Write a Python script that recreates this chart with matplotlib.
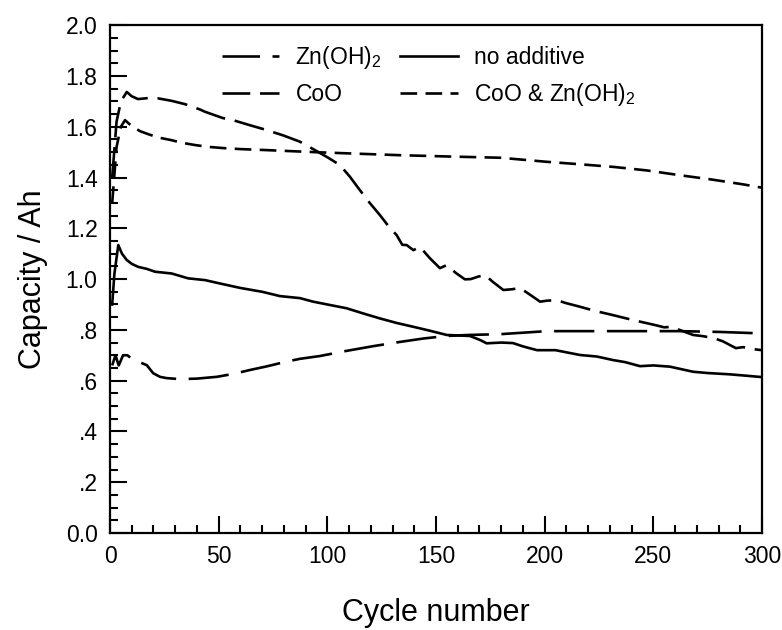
import matplotlib
matplotlib.use("Agg")
import matplotlib.pyplot as plt
from matplotlib.lines import Line2D

# Capacity vs cycle number for the four electrode additives
zn_x = [1, 3, 5, 7.7, 10, 12.9, 17.6, 22, 28.4, 34.5, 41.4, 43.7, 52, 56.6, 64, 72.1, 80, 87.4,
        94.3, 100, 105.8, 110.4, 115, 119.6, 124.2, 128, 131.9, 134.5, 136.5, 139.6, 142.6, 147.2,
        151.8, 154.9, 159, 163.3, 166, 169.5, 172.6, 176, 181, 185, 188.7, 193, 197.9, 201, 205.5,
        210, 216.3, 223, 231.5, 240, 250.8, 255, 258.5, 262, 268.3, 273, 277.5, 282, 285.3, 288,
        291.3, 295, 300]
zn_y = [1.40, 1.62, 1.70, 1.737, 1.72, 1.709, 1.713, 1.712, 1.702, 1.689, 1.668, 1.659, 1.634,
        1.626, 1.607, 1.587, 1.565, 1.541, 1.508, 1.48, 1.449, 1.403, 1.35, 1.299, 1.252, 1.21,
        1.173, 1.135, 1.134, 1.114, 1.127, 1.082, 1.043, 1.055, 1.025, 0.999, 1.0, 1.01, 1.016,
        0.99, 0.957, 0.96, 0.965, 0.94, 0.911, 0.915, 0.917, 0.905, 0.891, 0.875, 0.858, 0.84,
        0.819, 0.81, 0.812, 0.80, 0.780, 0.775, 0.768, 0.755, 0.740, 0.728, 0.732, 0.725, 0.72]

coz_x = [1, 3, 5, 6.9, 9, 11.5, 14, 17.5, 22, 28.4, 33, 39.1, 45, 52, 60, 72.1, 83, 94.3, 110,
         133.4, 155, 179.5, 200.9, 215, 231.5, 247, 262.3, 277, 291.4, 300]
coz_y = [1.30, 1.52, 1.60, 1.626, 1.61, 1.594, 1.582, 1.571, 1.558, 1.547, 1.537, 1.528, 1.521,
         1.516, 1.512, 1.508, 1.504, 1.500, 1.495, 1.488, 1.483, 1.478, 1.462, 1.453, 1.442,
         1.428, 1.409, 1.392, 1.373, 1.36]

none_x = [1, 2, 3.8, 5.5, 7.7, 10, 13, 17, 20.7, 28.4, 35.9, 43.7, 52, 60, 70, 78.2, 87.4, 93.5,
          100, 108.9, 116, 124.2, 132, 139.6, 147, 154.9, 160, 165.6, 170.3, 173.3, 180, 185.4,
          190, 196.5, 205, 216.3, 224, 231.5, 237, 243.9, 250, 257.7, 263, 268.3, 275, 285, 292, 300]
none_y = [0.90, 1.02, 1.134, 1.10, 1.075, 1.06, 1.048, 1.04, 1.029, 1.022, 1.003, 0.996, 0.980,
          0.965, 0.950, 0.933, 0.925, 0.911, 0.900, 0.885, 0.866, 0.845, 0.827, 0.812, 0.797,
          0.780, 0.778, 0.776, 0.760, 0.747, 0.75, 0.748, 0.735, 0.720, 0.72, 0.701, 0.695, 0.681,
          0.673, 0.657, 0.660, 0.655, 0.645, 0.635, 0.630, 0.625, 0.620, 0.614]

coo_x = [1, 2.5, 4, 6, 8, 10.7, 13, 16.9, 19.9, 23, 26, 32.2, 40, 49.1, 57, 64.4, 72, 79.7, 87.4,
         96.6, 108, 121.2, 133, 144.2, 154.9, 165, 179.5, 201, 231.5, 262, 280, 300]
coo_y = [0.66, 0.70, 0.66, 0.70, 0.70, 0.681, 0.675, 0.661, 0.629, 0.615, 0.610, 0.606, 0.608,
         0.615, 0.627, 0.642, 0.656, 0.672, 0.686, 0.697, 0.716, 0.736, 0.752, 0.766, 0.776,
         0.780, 0.783, 0.795, 0.795, 0.795, 0.792, 0.786]

y_ticks = [0.0, 0.2, 0.4, 0.6, 0.8, 1.0, 1.2, 1.4, 1.6, 1.8, 2.0]
y_tick_labels = ["0.0", ".2", ".4", ".6", ".8", "1.0", "1.2", "1.4", "1.6", "1.8", "2.0"]
x_ticks = [0, 50, 100, 150, 200, 250, 300]

plt.rcParams['font.family'] = ['Liberation Sans', 'DejaVu Sans']
plt.rcParams['mathtext.fontset'] = 'custom'
plt.rcParams['mathtext.rm'] = 'Liberation Sans'
plt.rcParams['lines.scale_dashes'] = False

fig = plt.figure(figsize=(7.82, 6.3), dpi=100)
ax = fig.add_axes([0.1407, 0.154, 0.8337, 0.806])

lw = 1.9
ax.plot(zn_x, zn_y, color='black', lw=lw, dashes=(22, 7))
ax.plot(coz_x, coz_y, color='black', lw=lw, dashes=(12, 6))
ax.plot(none_x, none_y, color='black', lw=lw)
ax.plot(coo_x, coo_y, color='black', lw=lw, dashes=(29, 9))

ax.set_xlim(0, 300)
ax.set_ylim(0, 2.0)
ax.set_xticks(x_ticks)
ax.set_xticks(range(0, 301, 10), minor=True)
ax.set_yticks(y_ticks)
ax.set_yticklabels(y_tick_labels)
ax.set_yticks([i * 0.05 for i in range(41)], minor=True)
ax.tick_params(which='both', direction='in', top=False, right=False, width=1.5,
               labelsize=16.5, pad=9)
ax.tick_params(which='major', length=12)
ax.tick_params(which='minor', length=6)
for s in ax.spines.values():
    s.set_linewidth(1.6)

ax.set_xlabel('Cycle number', fontsize=22, labelpad=21)
ax.set_ylabel('Capacity / Ah', fontsize=22, labelpad=13)

# legend with handles drawn in the original's symbols
handles = [
    Line2D([], [], color='black', lw=lw, dashes=(27, 9, 5, 9)),
    Line2D([], [], color='black', lw=lw, dashes=(20, 7)),
    Line2D([], [], color='black', lw=lw),
    Line2D([], [], color='black', lw=lw, dashes=(12, 6)),
]
labels = [r'Zn(OH)$_2$', 'CoO', 'no additive', r'CoO & Zn(OH)$_2$']
ax.legend(handles, labels, ncol=2, loc='upper left', bbox_to_anchor=(0.172, 0.962),
          frameon=False, fontsize=16.5, handlelength=2.5, handletextpad=0.7,
          columnspacing=0.8, labelspacing=0.5, borderpad=0, borderaxespad=0)

fig.savefig('out.png', dpi=100)
